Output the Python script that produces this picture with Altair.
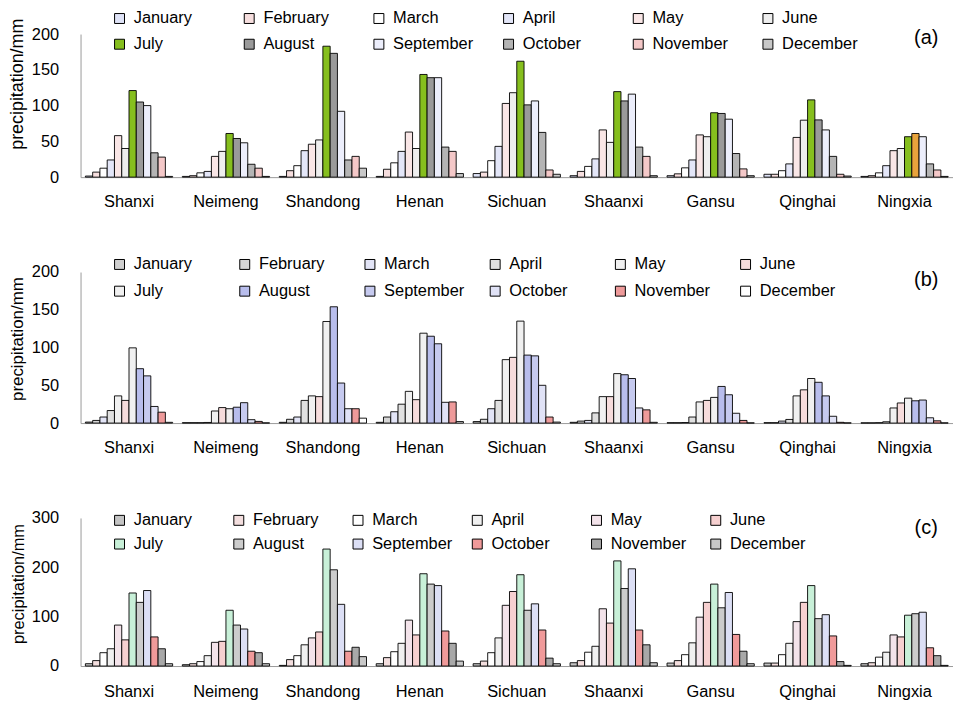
import altair as alt
import pandas as pd

months = ["January", "February", "March", "April", "May", "June",
          "July", "August", "September", "October", "November", "December"]
provinces = ["Shanxi", "Neimeng", "Shandong", "Henan", "Sichuan",
             "Shaanxi", "Gansu", "Qinghai", "Ningxia"]

# panel (a): one row per province, Jan..Dec
panel_a = [
    [1.5, 7, 12.5, 24, 58, 40, 121, 105, 100, 34, 28, 1],
    [1, 2, 6, 8, 29, 36, 61, 54, 48, 18, 12.5, 1],
    [1, 9, 16, 37, 46, 52, 183, 173, 92, 24, 29, 12.5],
    [1, 11, 20, 36, 63, 40, 143.5, 139, 139, 42, 36, 5],
    [5, 7, 23, 43, 103, 118, 162, 101, 106.5, 62.5, 10, 4],
    [2, 8, 15, 25.5, 66, 48.6, 119.5, 106.5, 116, 42, 29, 2],
    [2, 4.6, 13, 24, 59, 56.5, 90, 89, 81, 33, 11.5, 2],
    [4, 4, 9, 18.5, 55.5, 79.6, 108, 80, 66, 29, 4, 1.5],
    [1, 2, 6, 16, 37, 40, 56.5, 61, 56.5, 18.5, 10, 1],
]
# panel (b)
panel_b = [
    [1.3, 3.5, 8, 16.6, 36, 30, 99.6, 72, 62.5, 22, 14.4, 1],
    [0.5, 0.5, 0.5, 0.8, 16, 20.5, 19, 21, 27, 4.5, 2.2, 0.3],
    [1, 5, 8, 30, 36, 35, 134.5, 154, 53, 19, 19, 6.5],
    [1, 8, 15, 25, 42, 31, 119, 115, 105, 27.5, 28, 2],
    [2, 5, 19, 30, 84, 87, 135, 90, 89, 50, 8, 1.3],
    [1, 2.6, 3.5, 13.5, 35, 35, 65.5, 64, 59, 20, 17.5, 1],
    [0.5, 0.5, 0.7, 8, 28, 30, 34, 48.5, 37.5, 13, 3.5, 0.3],
    [0.5, 0.5, 2.6, 4.8, 36, 44, 59, 54, 36, 9, 1, 0.3],
    [0.3, 0.3, 0.5, 1.7, 20, 26.6, 33, 29.5, 30.5, 7, 3, 0.3],
]
# panel (c)
panel_c = [
    [4.7, 11, 27, 35, 83, 53, 148, 129, 153, 59, 35, 4.7],
    [2.7, 4.7, 9, 21, 48, 50, 113, 83, 75, 30, 27, 4.7],
    [1.3, 13, 21, 43, 57, 69, 237, 195, 125, 30, 38, 19],
    [4.7, 17, 29, 46, 93, 63, 187, 166, 163, 71, 46, 10],
    [4.7, 10, 27, 57, 123, 151, 185, 113, 126, 73, 16, 4.7],
    [6.7, 11, 28, 40, 116, 87, 213, 157, 197, 73, 43, 6.7],
    [6, 11, 23, 47, 99, 129, 166, 118, 149, 64, 30, 4.7],
    [6, 6, 23, 46, 90, 129, 163, 96, 104, 61, 9, 1.3],
    [4.7, 6.7, 18, 28, 63, 59, 103, 106, 109, 37, 21, 1.3],
]

colors_a = ["#dfe3f7", "#f6dede", "#ffffff", "#e3e6f8", "#f9e6e6", "#eeeeee",
            "#86bf1e", "#9a9a9a", "#eceefb", "#b4b4b4", "#f4c8c8", "#c8c8c8"]
colors_b = ["#cfcfcf", "#d6d6d6", "#e2e4f6", "#e0e0e0", "#f0f0f0", "#f6dcdc",
            "#f0f0f0", "#b8bdec", "#c6caef", "#e0e2f6", "#ee9a9a", "#ffffff"]
colors_c = ["#c4c4c4", "#f3dede", "#ffffff", "#f0f0f0", "#f3e3ea", "#f6d0d0",
            "#c8f0d8", "#cccccc", "#dcdff5", "#f09a9a", "#a8a8a8", "#c8c8c8"]

# the single orange bar in panel (a)
highlight_a = ("Ningxia", "August", "#e8a33c")

FONT = "Liberation Sans"


def panel(values, colors, ymax, ystep, height, tag, legend_y, col_pad, row_pad,
          title_size, title_y, label_pad, tag_y, highlight=None):
    rows = []
    for p, row in zip(provinces, values):
        for m, v in zip(months, row):
            rows.append({"province": p, "month": m, "value": v})
    df = pd.DataFrame(rows)

    fill = alt.Fill(
        "month:N",
        scale=alt.Scale(domain=months, range=colors),
        legend=alt.Legend(
            title=None, orient="none", legendX=31, legendY=legend_y,
            direction="horizontal",
            columns=6, gridAlign="all", columnPadding=col_pad, rowPadding=row_pad,
            labelFontSize=16.5, labelFont=FONT, labelColor="black",
            symbolType="square", symbolSize=100, symbolStrokeColor="black",
            symbolStrokeWidth=1, labelOffset=6, labelLimit=200, padding=0,
        ),
    )
    if highlight is not None:
        fill = alt.condition(
            f"datum.province === '{highlight[0]}' && datum.month === '{highlight[1]}'",
            alt.value(highlight[2]), fill)

    bars = alt.Chart(df).mark_bar(stroke="black", strokeWidth=0.9).encode(
        x=alt.X("province:N", sort=provinces,
                scale=alt.Scale(paddingInner=0.1, paddingOuter=0.05),
                axis=alt.Axis(title=None, labelAngle=0, labelFontSize=16.5,
                              labelFont=FONT, labelColor="black",
                              labelPadding=label_pad, ticks=False,
                              domainColor="#9a9a9a")),
        xOffset=alt.XOffset("month:N", sort=months,
                            scale=alt.Scale(paddingInner=0, paddingOuter=0)),
        y=alt.Y("value:Q", scale=alt.Scale(domain=[0, ymax], nice=False),
                axis=alt.Axis(title="precipitation/mm",
                              values=list(range(0, ymax + 1, ystep)),
                              grid=False, ticks=False, labelPadding=22,
                              labelFontSize=16.5, labelFont=FONT, labelColor="black",
                              titleFont=FONT, titleFontSize=title_size,
                              titleFontWeight="normal", titleColor="black",
                              titlePadding=5, titleY=title_y,
                              domainColor="#9a9a9a")),
        fill=fill,
    )
    label = alt.Chart(pd.DataFrame({"tag": [tag]})).mark_text(
        font=FONT, fontSize=20, align="center", baseline="middle", color="black"
    ).encode(x=alt.value(851), y=alt.value(tag_y), text="tag:N")
    return alt.layer(bars, label).properties(width=878, height=height)


pa = panel(panel_a, colors_a, 200, 50, 144, "(a)", -24, 26.5, 9, 18, 50, 17, 4,
           highlight=highlight_a)
pb = panel(panel_b, colors_b, 200, 50, 152, "(b)", -16, 22, 10, 17, 67, 17, 8)
pc = panel(panel_c, colors_c, 300, 100, 149, "(c)", -6, 16, 7, 16.5, 66, 18, 10)

chart = alt.vconcat(pa, pb, pc, spacing=95.5, bounds="flush").resolve_scale(
    fill="independent", x="independent", y="independent"
).resolve_legend(fill="independent").properties(
    padding={"left": 0, "top": 0, "right": 0, "bottom": 0}
).configure_view(stroke=None)

chart.save("out.html", embed_options={"renderer": "svg", "actions": False})
